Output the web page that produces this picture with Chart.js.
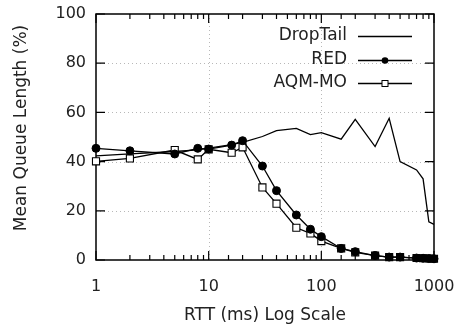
<!DOCTYPE html>
<html><head><meta charset="utf-8">
<script src="https://cdn.jsdelivr.net/npm/chart.js@4/dist/chart.umd.min.js"></script>
<style>html,body{margin:0;padding:0;background:#fff}#wrap{width:463px;height:336px}</style>
</head><body><div id="wrap"><canvas id="c" width="463" height="336"></canvas></div>
<script>
const rtt = [1,2,5,8,10,16,20,30,40,60,80,100,150,200,300,400,500,700,800,900,1000];
const dropTail = [42.3,43.1,44.1,44.8,45.5,46.9,47.8,50.2,52.6,53.5,51,51.8,49.1,57.2,46.1,57.6,40,36.6,33,15.5,14.5];
const red = [45.4,44.4,43.1,45.4,45.1,46.7,48.5,38.2,28.2,18.3,12.5,9.5,4.7,3.4,1.8,1.2,1.2,0.8,0.7,0.6,0.5];
const aqm = [40.1,41.3,44.7,40.9,45.0,43.6,45.8,29.5,22.9,13.1,10.8,7.7,4.7,3.1,1.8,1.2,1.2,0.8,0.7,0.6,0.5];
const seriesNames = ['DropTail','RED','AQM-MO'];
const xMajorTicks = [1,10,100,1000];
const yTicks = [0,20,40,60,80,100];
const xTitle = 'RTT (ms) Log Scale';
const yTitle = 'Mean Queue Length (%)';

const FONT = 'DejaVu Sans';
const pts = (arr) => rtt.map((x,i)=>({x, y: arr[i]}));

const framePlugin = {
  id: 'frame',
  beforeDatasetsDraw(chart) {
    const {ctx, chartArea:{left,right,top,bottom}, scales:{x,y}} = chart;
    ctx.save();
    ctx.strokeStyle = '#b8b8b8'; ctx.lineWidth = 1; ctx.setLineDash([1,3]);
    x.ticks.forEach(t => {
      const l = Math.log10(t.value);
      if (Math.abs(l-Math.round(l))<1e-9 && t.value>1 && t.value<1000) {
        const px = Math.round(x.getPixelForValue(t.value))+0.5;
        ctx.beginPath(); ctx.moveTo(px,top); ctx.lineTo(px,bottom); ctx.stroke();
      }
    });
    y.ticks.forEach(t => {
      if (t.value>0 && t.value<100) {
        const py = Math.round(y.getPixelForValue(t.value))+0.5;
        ctx.beginPath(); ctx.moveTo(left,py); ctx.lineTo(right,py); ctx.stroke();
      }
    });
    ctx.setLineDash([]);
    ctx.strokeStyle = '#000'; ctx.lineWidth = 1.5;
    ctx.strokeRect(left, top, right-left, bottom-top);
    ctx.lineWidth = 1.2;
    ctx.beginPath();
    y.ticks.forEach(t => {
      const py = y.getPixelForValue(t.value);
      ctx.moveTo(left,py); ctx.lineTo(left+9,py);
      ctx.moveTo(right,py); ctx.lineTo(right-9,py);
    });
    x.ticks.forEach(t => {
      const l = Math.log10(t.value);
      const major = Math.abs(l-Math.round(l))<1e-9;
      const len = major ? 9 : 5;
      const px = x.getPixelForValue(t.value);
      ctx.moveTo(px,bottom); ctx.lineTo(px,bottom-len);
      ctx.moveTo(px,top); ctx.lineTo(px,top+len);
    });
    ctx.stroke();
    ctx.restore();
  },
  afterDraw(chart) {
    const {ctx} = chart;
    ctx.save();
    ctx.fillStyle = '#222';
    ctx.font = '17px "' + FONT + '"';
    ctx.textAlign = 'center'; ctx.textBaseline = 'middle';
    ctx.translate(22,128); ctx.rotate(-Math.PI/2);
    ctx.fillText(yTitle,0,0);
    ctx.restore();
    ctx.save();
    ctx.font = '17px "' + FONT + '"';
    ctx.fillStyle = '#222';
    ctx.textAlign = 'right'; ctx.textBaseline = 'middle';
    const rows = [36,60,83];
    chart.data.datasets.forEach((ds,i) => {
      const yy = rows[i];
      ctx.fillText(ds.label, 347, yy);
      ctx.strokeStyle = '#000'; ctx.lineWidth = 1.3;
      ctx.beginPath(); ctx.moveTo(358,yy+0.5); ctx.lineTo(412,yy+0.5); ctx.stroke();
      if (i===1) {
        ctx.fillStyle = '#000';
        ctx.beginPath(); ctx.arc(385,yy+0.5,3.3,0,Math.PI*2); ctx.fill();
        ctx.fillStyle = '#222';
      } else if (i===2) {
        ctx.fillStyle = '#fff';
        ctx.fillRect(382,yy-2.5,6,6);
        ctx.lineWidth = 1;
        ctx.strokeRect(382,yy-2.5,6,6);
        ctx.fillStyle = '#222';
      }
    });
    ctx.restore();
  }
};

new Chart(document.getElementById('c'), {
  type: 'line',
  data: {
    datasets: [
      {label: seriesNames[0], data: pts(dropTail), borderColor:'#000', borderWidth:1.3, pointRadius:0, clip:false, order:3},
      {label: seriesNames[1], data: pts(red), borderColor:'#000', borderWidth:1.3, pointRadius:4, pointStyle:'circle', pointBackgroundColor:'#000', pointBorderColor:'#000', pointBorderWidth:1, clip:false, order:1},
      {label: seriesNames[2], data: pts(aqm), borderColor:'#000', borderWidth:1.3, pointRadius:5, pointStyle:'rect', pointBackgroundColor:'#fff', pointBorderColor:'#000', pointBorderWidth:1.1, clip:false, order:2}
    ]
  },
  plugins: [framePlugin],
  options: {
    responsive: false,
    animation: false,
    events: [],
    layout: {padding: {top:14, right:29, left:0, bottom:0}},
    plugins: {legend:{display:false}, tooltip:{enabled:false}},
    scales: {
      x: {
        type: 'logarithmic', min: 1, max: 1000,
        grid: {display:false}, border:{display:false},
        ticks: {
          autoSkip:false, maxRotation:0, minRotation:0, padding: 9,
          color:'#222', font:{family:FONT, size:16},
          callback: (v) => xMajorTicks.includes(v) ? String(v) : ''
        },
        title: {display:true, text:xTitle, color:'#222', font:{family:FONT, size:17}, padding:{top:0,bottom:10}},
        afterFit: (s) => { s.height = 76; s.paddingLeft = 0; s.paddingRight = 0; }
      },
      y: {
        min: 0, max: 100,
        afterBuildTicks: (s) => { s.ticks = yTicks.map(v => ({value:v})); },
        grid: {display:false}, border:{display:false},
        ticks: {padding: 2, color:'#222', font:{family:FONT, size:16}},
        afterFit: (s) => { s.width = 96; s.paddingTop = 0; s.paddingBottom = 0; }
      }
    }
  }
});
</script>
</body></html>
